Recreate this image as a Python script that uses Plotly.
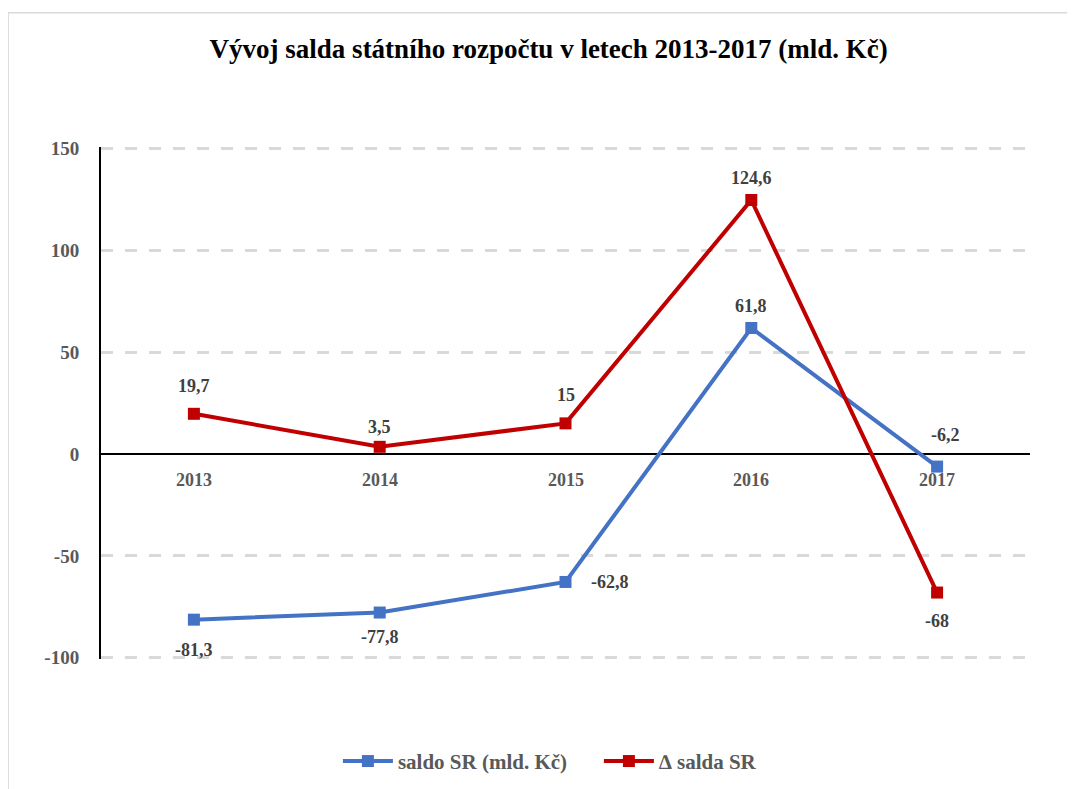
import plotly.graph_objects as go

years = ["2013", "2014", "2015", "2016", "2017"]
saldo = [-81.3, -77.8, -62.8, 61.8, -6.2]
delta = [19.7, 3.5, 15, 124.6, -68]
saldo_labels = ["-81,3", "-77,8", "-62,8", "61,8", "-6,2"]
delta_labels = ["19,7", "3,5", "15", "124,6", "-68"]
y_ticks = [-100, -50, 0, 50, 100, 150]

# label offsets (styling, in px): (xshift, yshift)
saldo_off = [(0, -30), (0, -24), (44, 0), (0, 22), (8, 32)]
delta_off = [(0, 28), (0, 20), (0, 28), (0, 22), (0, -28)]

FONT = "Liberation Serif"
label_font = dict(family=FONT, size=18, color="#404040")

fig = go.Figure()
fig.add_trace(go.Scatter(
    x=years, y=saldo, name="<b>saldo SR (mld. Kč)</b>", mode="lines+markers",
    line=dict(color="#4472C4", width=4), marker=dict(symbol="square", size=12, color="#4472C4"),
))
fig.add_trace(go.Scatter(
    x=years, y=delta, name="<b>∆ salda SR</b>", mode="lines+markers",
    line=dict(color="#C00000", width=4), marker=dict(symbol="square", size=12, color="#C00000"),
))

for vals, labs, offs in ((saldo, saldo_labels, saldo_off), (delta, delta_labels, delta_off)):
    for i, (v, t, o) in enumerate(zip(vals, labs, offs)):
        fig.add_annotation(x=i, y=v, xref="x", yref="y", text=f"<b>{t}</b>", showarrow=False,
                           xanchor="center", yanchor="middle", xshift=o[0], yshift=o[1],
                           font=label_font)

for i, yr in enumerate(years):
    fig.add_annotation(x=i, y=0, xref="x", yref="y", text=f"<b>{yr}</b>", showarrow=False,
                       yanchor="top", yshift=-14, font=dict(family=FONT, size=18, color="#595959"))

fig.add_shape(type="rect", xref="paper", yref="paper", x0=-0.1, y0=-0.4, x1=1.2, y1=1.262,
              line=dict(color="#d9d9d9", width=1.5), fillcolor="rgba(0,0,0,0)", layer="below")

fig.update_layout(
    width=1075, height=789,
    margin=dict(l=93, r=53, t=139, b=138, autoexpand=False),
    paper_bgcolor="white", plot_bgcolor="white",
    title=dict(text="<b>Vývoj salda státního rozpočtu v letech 2013-2017 (mld. Kč)</b>",
               x=0.503, xanchor="center", y=0.948, yanchor="middle",
               font=dict(family=FONT, size=27, color="black")),
    xaxis=dict(type="category", range=[-0.5, 4.5], showticklabels=False, showgrid=False,
               zeroline=False, showline=False, ticks=""),
    yaxis=dict(range=[-100.6, 150.6], tickvals=y_ticks,
               ticktext=[f"<b>{v}</b>" for v in y_ticks],
               showgrid=True, gridcolor="#d9d9d9", griddash="12px,12px", gridwidth=3,
               zeroline=True, zerolinecolor="black", zerolinewidth=2,
               showline=True, linecolor="black", linewidth=2,
               ticks="", ticklen=0, tickfont=dict(family=FONT, size=19, color="#595959"),
               ticklabelstandoff=16),
    showlegend=True,
    legend=dict(orientation="h", x=0.255, xanchor="left", y=-0.2, yanchor="middle",
                font=dict(family=FONT, size=21, color="#595959"), itemwidth=50,
                entrywidth=196, entrywidthmode="pixels"),
)
fig.write_html("out.html")
